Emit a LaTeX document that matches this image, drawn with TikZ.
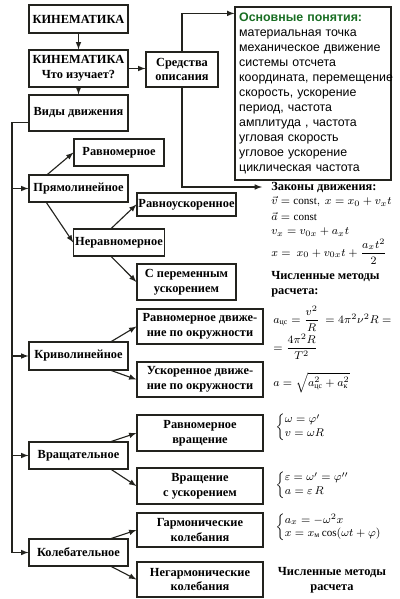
\documentclass[tikz,border=0pt]{standalone}
\usepackage{amsmath}
\usepackage{fontspec}
\setmainfont{Liberation Serif}
\newfontfamily\sansru{Liberation Sans}
\usepackage{xcolor}
\definecolor{lineCol}{RGB}{35,35,30}
\definecolor{headGreen}{RGB}{25,110,35}
\usepackage{tikz}
\usetikzlibrary{arrows,positioning,calc}
\tikzstyle{kbox}=[draw=lineCol, line width=0.8pt, fill=white, align=center, inner sep=1pt, font=\fontsize{8.8}{10.5}\selectfont\bfseries]
\tikzstyle{arr}=[-latex, draw=lineCol, line width=0.8pt]
\tikzstyle{formula}=[anchor=west, inner sep=0pt, font=\fontsize{7.9}{9.5}\selectfont]

\begin{document}
\begin{tikzpicture}[x=0.025cm, y=-0.025cm]
\useasboundingbox[fill=white] (0,0) rectangle (400,599);

% left column
\node[kbox, minimum width=2.475cm, minimum height=0.7cm] (kin) at (78.5,19) {КИНЕМАТИКА};
\node[kbox, minimum width=2.475cm, minimum height=0.925cm] (kin2) at (78.5,68.5) {КИНЕМАТИКА\\Что изучает?};
\node[kbox, minimum width=1.8cm, minimum height=0.875cm] (sred) at (182,69.5) {Средства\\описания};
\node[kbox, minimum width=2.475cm, minimum height=0.9cm] (vidy) at (78.5,113) {Виды движения};
\node[kbox, minimum width=2.475cm, minimum height=0.675cm] (pryam) at (78.5,188.5) {Прямолинейное};
\node[kbox, minimum width=2.475cm, minimum height=0.7cm] (krivo) at (78.5,356) {Криволинейное};
\node[kbox, minimum width=2.475cm, minimum height=0.675cm] (vrasch) at (78.5,455.5) {Вращательное};
\node[kbox, minimum width=2.475cm, minimum height=0.675cm] (koleb) at (78.5,552.5) {Колебательное};

% second and third columns
\node[kbox, minimum width=2.25cm, minimum height=0.675cm] (ravnom) at (119,152.5) {Равномерное};
\node[kbox, minimum width=2.25cm, minimum height=0.675cm] (nerav) at (119,242.5) {Неравномерное};
\node[kbox, minimum width=2.475cm, minimum height=0.575cm] (ravnousk) at (186.5,204.5) {Равноускоренное};
\node[kbox, minimum width=2.475cm, minimum height=0.9cm] (sperem) at (186.5,282) {С переменным\\ускорением};
\node[kbox, minimum width=3.15cm, minimum height=0.875cm] (ravnokr) at (200,326.5) {Равномерное движе-\\ние по окружности};
\node[kbox, minimum width=3.15cm, minimum height=0.875cm] (uskokr) at (200,379.5) {Ускоренное движе-\\ние по окружности};
\node[kbox, minimum width=3.15cm, minimum height=0.9cm] (ravnvr) at (200,433) {Равномерное\\вращение};
\node[kbox, minimum width=3.15cm, minimum height=0.9cm] (vruskor) at (200,486) {Вращение\\с ускорением};
\node[kbox, minimum width=3.15cm, minimum height=0.85cm] (garm) at (200,530) {Гармонические\\колебания};
\node[kbox, minimum width=3.15cm, minimum height=0.875cm] (negarm) at (200,579.5) {Негармонические\\колебания};

% basic notions
\node[draw=lineCol, line width=0.8pt, fill=white, minimum width=3.9cm, minimum height=4.325cm,
      text width=3.69cm, align=left, inner sep=3pt, font=\sansru\fontsize{8.8}{10.7}\selectfont]
  (osn) at (313,93.5) {{\bfseries\color{headGreen}Основные понятия:}\\
  материальная точка\\механическое движение\\системы отсчета\\
  \mbox{координата, перемещение}\\скорость, ускорение\\период, частота\\
  амплитуда , частота\\угловая скорость\\угловое ускорение\\циклическая частота};

% laws and formulas
\node[formula, inner xsep=6.4pt, font=\fontsize{8.8}{10.5}\selectfont\bfseries] (zak) at (262,187) {Законы движения:};
\node[formula] (f1) at (271,202) {$\vec{v} = \mathrm{const},\ x = x_0 + v_x t$};
\node[formula] (f2) at (271,217) {$\vec{a} = \mathrm{const}$};
\node[formula] (f3) at (271,232) {$v_x = v_{0x} + a_x t$};
\node[formula] (f4) at (271,252) {$x = \ x_0 + v_{0x} t + \dfrac{a_x t^2}{2}$};
\node[formula, align=left, font=\fontsize{8.8}{10.7}\selectfont\bfseries] (num1) at (271,284.5) {Численные методы\\расчета:};
\node[formula] (f5) at (273,319) {$a_{\text{цс}} = \dfrac{v^2}{R} \ = 4\pi^2\nu^2 R =$};
\node[formula] (f6) at (273,347) {$= \dfrac{4\pi^2 R}{T^2}$};
\node[formula] (f7) at (273,383) {$a = \sqrt{a_{\text{цс}}^2 + a_{\text{к}}^2}$};
\node[formula] (f8) at (275,427) {$\left\{\begin{array}{@{}l}\omega = \varphi'\\ v = \omega R\end{array}\right.$};
\node[formula] (f9) at (275,485) {$\left\{\begin{array}{@{}l}\varepsilon = \omega' = \varphi''\\ a = \varepsilon\, R\end{array}\right.$};
\node[formula] (f10) at (275,527) {$\left\{\begin{array}{@{}l}a_x = -\omega^2 x\\ x = x_{\text{м}} \cos(\omega t + \varphi)\end{array}\right.$};
\node[formula, anchor=center, align=center, font=\fontsize{8.8}{10.7}\selectfont\bfseries] (num2) at (332,580.5) {Численные методы\\расчета};

% connectors
\draw[arr] (kin) -- (kin2);
\draw[arr] (kin2) -- (vidy);
\draw[arr] (kin2.east) -- (kin2.east -| sred.west);
\draw[arr] (sred.north) |- ($(osn.north west)+(0,7)$);
\draw[arr] (sred.south) |- (zak.west);

\coordinate (spine) at (12,0);
\draw[arr] ($(vidy.west)!0.5!(vidy.south west)$) -| (spine |- koleb.west) -- (koleb.west);
\foreach \n in {pryam,krivo,vrasch}
  \draw[arr] (spine |- \n.west) -- (\n.west);

\draw[arr] ($(pryam.north west)+(19,0)$) -- (ravnom.west);
\draw[arr] ($(pryam.south west)+(18,0)$) -- (nerav.west);
\draw[arr] ($(nerav.north west)+(38,0)$) -- (ravnousk.west);
\draw[arr] ($(nerav.south west)+(38,0)$) -- (sperem.west);
\foreach \p/\a/\b in {krivo/ravnokr/uskokr, vrasch/ravnvr/vruskor, koleb/garm/negarm} {
  \draw[arr] ($(\p.north west)+(83,0)$) -- (\a.west);
  \draw[arr] ($(\p.south west)+(83,0)$) -- (\b.west);
}
\end{tikzpicture}
\end{document}
